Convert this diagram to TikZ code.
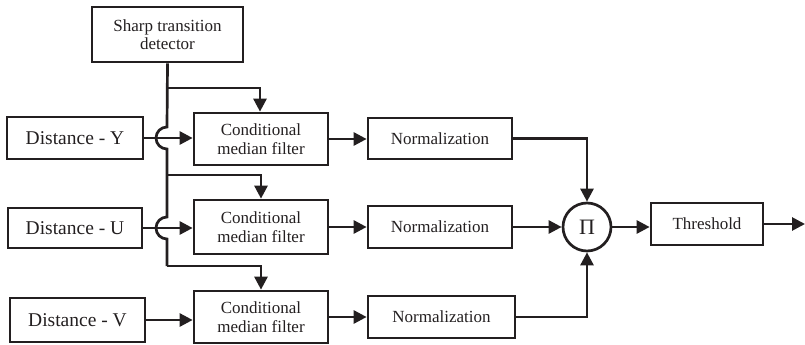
\documentclass[tikz,border=0pt]{standalone}
\usepackage{fontspec}
\setmainfont{Liberation Serif}
\usetikzlibrary{arrows.meta}
\definecolor{ink}{RGB}{35,31,32}
\begin{document}
\begin{tikzpicture}[x=1pt,y=-1pt,
  line width=2.7pt, draw=ink, text=ink, line join=miter,
  blk/.style={draw=ink, line width=2.7pt, inner sep=0pt, align=center,
    font=\fontsize{17}{18.5}\selectfont},
  src/.style={blk, font=\fontsize{19.5}{22}\selectfont},
  arr/.style={-{Triangle[length=13pt,width=13pt]}, ink},
  wire/.style={ink}]
\useasboundingbox (0,0) rectangle (805,345);

% blocks
\node[blk, minimum width=151pt, minimum height=55pt] (std) at (167.5,34.5) {Sharp transition\\detector};
\node[src, minimum width=136pt, minimum height=42pt] (dy) at (75,138) {Distance - Y};
\node[src, minimum width=134pt, minimum height=40pt] (du) at (75,228) {Distance - U};
\node[src, minimum width=135pt, minimum height=44pt] (dv) at (77.5,320) {Distance - V};

\node[blk, minimum width=134pt, minimum height=52pt] (cy) at (261,139) {Conditional\\median filter};
\node[blk, minimum width=134pt, minimum height=54pt] (cu) at (261,227) {Conditional\\median filter};
\node[blk, minimum width=134pt, minimum height=52pt] (cv) at (261,317) {Conditional\\median filter};

\node[blk, minimum width=144pt, minimum height=41pt] (ny) at (440,138.5) {Normalization};
\node[blk, minimum width=144pt, minimum height=42pt] (nu) at (440,227) {Normalization};
\node[blk, minimum width=147pt, minimum height=42pt] (nv) at (441.5,317) {Normalization};

\node[draw=ink, line width=2.7pt, circle, minimum size=48pt, inner sep=0pt,
  font=\fontsize{22}{24}\selectfont] (pi) at (587,227) {Π};
\node[blk, minimum width=112pt, minimum height=42pt] (th) at (707,224) {Threshold};
\coordinate (out) at (805,224);

% control trunk from the transition detector, hopping over the Y and U inputs
\coordinate (t0) at (167,88);
\coordinate (t1) at (167,175);
\coordinate (t2) at (167,266);
\draw[wire] (std.south) -- (167,127) arc[start angle=90, end angle=270, radius=11pt]
  -- (167,217) arc[start angle=90, end angle=270, radius=11pt] -- (t2);
\draw[arr] (t0) -| ([xshift=-1pt]cy.north);
\draw[arr] (t1) -| (cu.north);
\draw[arr] (t2) -| (cv.north);

% data inputs
\draw[arr] (dy.east) -- (cy.west |- dy.east);
\draw[arr] (du.east) -- (cu.west |- du.east);
\draw[arr] (dv.east) -- (cv.west |- dv.east);

% filter to normalization
\draw[arr] (cy.east) -- (ny.west |- cy.east);
\draw[arr] (cu.east) -- (nu.west |- cu.east);
\draw[arr] (cv.east) -- (nv.west |- cv.east);

% product and threshold
\draw[arr] (ny.east) -| (pi.north);
\draw[arr] (nu.east) -- (pi.west);
\draw[arr] (nv.east) -| (pi.south);
\draw[arr] (pi.east) -- (th.west |- pi.east);
\draw[arr] (th.east) -- (out);
\end{tikzpicture}
\end{document}
